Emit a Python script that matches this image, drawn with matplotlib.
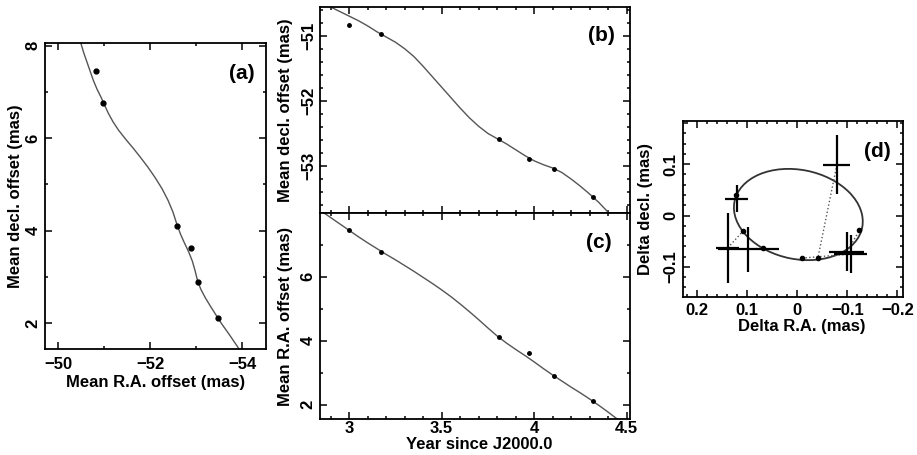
import matplotlib
matplotlib.use('Agg')
import matplotlib.pyplot as plt
from matplotlib.patches import Ellipse
from matplotlib.ticker import MultipleLocator, FormatStrFormatter

# global look: bold Helvetica-like text, inward ticks on all sides
plt.rcParams['font.family'] = ['Liberation Sans', 'DejaVu Sans']
plt.rcParams['font.weight'] = 'bold'
plt.rcParams['font.size'] = 12
plt.rcParams['axes.labelweight'] = 'bold'
plt.rcParams['axes.labelsize'] = 12
plt.rcParams['axes.linewidth'] = 1.3

# observed epochs and mean offsets (mas)
year = [3.00, 3.17, 3.81, 3.97, 4.11, 4.32]
off_b = [-50.83, -50.97, -52.59, -52.90, -53.04, -53.47]
off_c = [7.45, 6.76, 4.11, 3.63, 2.89, 2.11]

# model track
fit_year = [2.85, 2.90, 2.95, 3.00, 3.05, 3.10, 3.15, 3.20, 3.25, 3.30, 3.35, 3.40,
            3.45, 3.50, 3.55, 3.60, 3.65, 3.70, 3.75, 3.80, 3.85, 3.90, 3.95, 4.00,
            4.05, 4.10, 4.15, 4.20, 4.25, 4.30, 4.35, 4.40, 4.45, 4.50]
fit_b = [-50.50, -50.56, -50.63, -50.70, -50.77, -50.85, -50.94, -51.02, -51.10,
         -51.20, -51.32, -51.47, -51.63, -51.79, -51.95, -52.11, -52.26, -52.39,
         -52.50, -52.58, -52.66, -52.75, -52.84, -52.92, -52.98, -53.03, -53.10,
         -53.20, -53.31, -53.43, -53.56, -53.71, -53.86, -54.01]
fit_c = [8.05, 7.85, 7.65, 7.45, 7.25, 7.06, 6.88, 6.70, 6.53, 6.35, 6.17, 5.98,
         5.79, 5.59, 5.38, 5.15, 4.91, 4.66, 4.40, 4.15, 3.93, 3.73, 3.54, 3.34,
         3.13, 2.93, 2.74, 2.55, 2.37, 2.18, 1.98, 1.77, 1.55, 1.33]

# panel (d): residual positions, errors and model points on the orbit
d_ra = [0.121, 0.139, 0.098, -0.079, -0.099, -0.107]
d_dec = [0.033, -0.063, -0.066, 0.099, -0.071, -0.075]
d_ra_err = [0.023, 0.023, 0.061, 0.027, 0.035, 0.033]
d_dec_err = [0.026, 0.068, 0.044, 0.057, 0.038, 0.037]
m_ra = [0.123, 0.109, 0.069, -0.041, -0.124, -0.009]
m_dec = [0.040, -0.031, -0.063, -0.083, -0.029, -0.083]
orbit_center = (-0.002, 0.002)
orbit_axes = (0.260, 0.174)
orbit_angle = 11

line_col = '#555555'


def style(ax, xpad=4, ypad=3):
    ax.tick_params(which='both', direction='in', top=True, right=True, width=1.1)
    ax.tick_params(which='major', length=5)
    ax.tick_params(which='minor', length=2.5)
    ax.tick_params(axis='x', pad=xpad)
    ax.tick_params(axis='y', pad=ypad, labelrotation=90)
    for lab in ax.get_yticklabels():
        lab.set_va('center')


fig = plt.figure(figsize=(9.17, 4.55), dpi=100)

# ---------------- panel (a) ----------------
ax_a = fig.add_axes([0.0491, 0.233, 0.241, 0.6725])
ax_a.plot(fit_b, fit_c, '-', color=line_col, lw=1.0)
ax_a.plot(off_b, off_c, 'o', color='k', ms=3.5)
ax_a.set_xlim(-49.72, -54.52)
ax_a.set_ylim(1.44, 8.06)
ax_a.xaxis.set_major_locator(MultipleLocator(2))
ax_a.xaxis.set_minor_locator(MultipleLocator(1))
ax_a.yaxis.set_major_locator(MultipleLocator(2))
ax_a.yaxis.set_minor_locator(MultipleLocator(1))
ax_a.set_xlabel('Mean R.A. offset (mas)')
ax_a.set_ylabel('Mean decl. offset (mas)')
ax_a.xaxis.set_label_coords(0.50, -0.085)
ax_a.yaxis.set_label_coords(-0.10, 0.5)
ax_a.text(0.89, 0.90, '(a)', transform=ax_a.transAxes, fontsize=15,
          ha='center', va='center')
style(ax_a, xpad=6)

# ---------------- panel (b) ----------------
ax_b = fig.add_axes([0.349, 0.532, 0.338, 0.4527])
ax_b.plot(fit_year, fit_b, '-', color=line_col, lw=1.0)
ax_b.plot(year, off_b, 'o', color='k', ms=2.5)
ax_b.set_xlim(2.843, 4.518)
ax_b.set_ylim(-53.72, -50.56)
ax_b.xaxis.set_major_locator(MultipleLocator(0.5))
ax_b.xaxis.set_minor_locator(MultipleLocator(0.1))
ax_b.yaxis.set_major_locator(MultipleLocator(1))
ax_b.yaxis.set_minor_locator(MultipleLocator(0.2))
ax_b.tick_params(labelbottom=False)
ax_b.set_ylabel('Mean decl. offset (mas)')
ax_b.yaxis.set_label_coords(-0.088, 0.5)
ax_b.text(0.908, 0.86, '(b)', transform=ax_b.transAxes, fontsize=15,
          ha='center', va='center')
style(ax_b)

# ---------------- panel (c) ----------------
ax_c = fig.add_axes([0.349, 0.0791, 0.338, 0.4527])
ax_c.plot(fit_year, fit_c, '-', color=line_col, lw=1.0)
ax_c.plot(year, off_c, 'o', color='k', ms=2.5)
ax_c.set_xlim(2.843, 4.518)
ax_c.set_ylim(1.555, 7.99)
ax_c.xaxis.set_major_locator(MultipleLocator(0.5))
ax_c.xaxis.set_minor_locator(MultipleLocator(0.1))
ax_c.xaxis.set_major_formatter(FormatStrFormatter('%g'))
ax_c.yaxis.set_major_locator(MultipleLocator(2))
ax_c.yaxis.set_minor_locator(MultipleLocator(1))
ax_c.set_xlabel('Year since J2000.0')
ax_c.set_ylabel('Mean R.A. offset (mas)')
ax_c.xaxis.set_label_coords(0.515, -0.085)
ax_c.yaxis.set_label_coords(-0.088, 0.5)
ax_c.text(0.90, 0.855, '(c)', transform=ax_c.transAxes, fontsize=15,
          ha='center', va='center')
style(ax_c, xpad=1.5)

# ---------------- panel (d) ----------------
ax_d = fig.add_axes([0.7445, 0.347, 0.2402, 0.3868])
for i in range(len(d_ra)):
    ax_d.plot([d_ra[i], m_ra[i]], [d_dec[i], m_dec[i]], ':', color=line_col, lw=1.0)
ax_d.add_patch(Ellipse(orbit_center, orbit_axes[0], orbit_axes[1], angle=orbit_angle,
                       fill=False, edgecolor='#333333', lw=1.3))
ax_d.errorbar(d_ra, d_dec, xerr=d_ra_err, yerr=d_dec_err, fmt='none',
              ecolor='k', elinewidth=1.6, capsize=0)
ax_d.plot(m_ra, m_dec, 'o', color='k', ms=3)
ax_d.set_xlim(0.229, -0.211)
ax_d.set_ylim(-0.159, 0.184)
ax_d.xaxis.set_major_locator(MultipleLocator(0.1))
ax_d.xaxis.set_minor_locator(MultipleLocator(0.02))
ax_d.yaxis.set_major_locator(MultipleLocator(0.1))
ax_d.yaxis.set_minor_locator(MultipleLocator(0.02))
ax_d.set_xticks([0.2, 0.1, 0, -0.1, -0.2])
ax_d.set_xticklabels(['0.2', '0.1', '0', '\u22120.1', '\u22120.2'])
ax_d.set_yticks([-0.1, 0, 0.1])
ax_d.set_yticklabels(['\u22120.1', '0', '0.1'])
ax_d.set_xlabel('Delta R.A. (mas)')
ax_d.set_ylabel('Delta decl. (mas)')
ax_d.xaxis.set_label_coords(0.54, -0.125)
ax_d.yaxis.set_label_coords(-0.135, 0.5)
ax_d.text(0.882, 0.826, '(d)', transform=ax_d.transAxes, fontsize=15,
          ha='center', va='center')
style(ax_d)

fig.savefig('out.png', dpi=100)
